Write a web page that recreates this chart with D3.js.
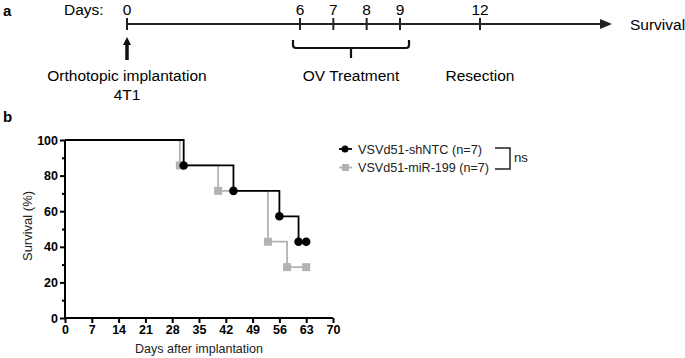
<!DOCTYPE html>
<html><head><meta charset="utf-8">
<script src="https://cdn.jsdelivr.net/npm/d3@7"></script>
<style>body{margin:0;background:#fff}svg{display:block;font-family:"Liberation Sans",Arial,sans-serif}</style>
</head><body><svg id="c" width="685" height="358"></svg>
<script>
// Panel a: timeline
const timelineDays = [0, 6, 7, 8, 9, 12];
const timelineEvents = [
  {label: ["Orthotopic implantation", "4T1"], day: 0},
  {label: ["OV Treatment"], from: 6, to: 9},
  {label: ["Resection"], day: 12}
];
// Panel b: survival
const xTicks = [0, 7, 14, 21, 28, 35, 42, 49, 56, 63, 70];
const yTicks = [0, 20, 40, 60, 80, 100];
const seriesNames = ["VSVd51-shNTC (n=7)", "VSVd51-miR-199 (n=7)"];
const shNTC_days = [0, 31, 44, 56, 61, 63];
const shNTC_surv = [100, 85.714, 71.429, 57.143, 42.857, 42.857];
const miR199_days = [0, 30, 40, 53, 58, 63];
const miR199_surv = [100, 85.714, 71.429, 42.857, 28.571, 28.571];

const svg = d3.select("#c");

// ---------- Panel a ----------
const tx = d3.scaleLinear().domain([0, 6, 9, 12, 14.05]).range([127, 300, 400, 480, 612]);
const ty = 24;
svg.append("text").attr("x", 3).attr("y", 16).attr("font-weight", "bold").attr("font-size", 15).text("a");
svg.append("text").attr("x", 64).attr("y", 15).attr("font-size", 15.5).text("Days:");
svg.append("line").attr("x1", tx(0)).attr("x2", tx(14.05) - 8).attr("y1", ty).attr("y2", ty)
  .attr("stroke", "#222").attr("stroke-width", 2);
svg.append("path").attr("d", `M${tx(14.05)},${ty} l-12,-5 l0,10 z`).attr("fill", "#222");
svg.append("text").attr("x", 630).attr("y", 30).attr("font-size", 15.5).text("Survival");
timelineDays.forEach(d => {
  svg.append("line").attr("x1", tx(d)).attr("x2", tx(d)).attr("y1", ty - 6).attr("y2", ty + 6)
    .attr("stroke", "#222").attr("stroke-width", 2);
  svg.append("text").attr("x", tx(d)).attr("y", 15).attr("text-anchor", "middle").attr("font-size", 15.5).text(d);
});
// arrow at day 0
svg.append("line").attr("x1", tx(0)).attr("x2", tx(0)).attr("y1", 44).attr("y2", 60)
  .attr("stroke", "#111").attr("stroke-width", 3.5);
svg.append("path").attr("d", `M${tx(0)},37 l-4,8 l8,0 z`).attr("fill", "#111");
// bracket
const b0 = tx(6) - 7, b1 = tx(9) + 9, bm = 351;
svg.append("path").attr("d", `M${b0},40 L${b0},45 Q${b0},48 ${b0+3},48 L${b1-3},48 Q${b1},48 ${b1},45 L${b1},40 M${bm},48 L${bm},58`)
  .attr("fill", "none").attr("stroke", "#111").attr("stroke-width", 2.2);
timelineEvents.forEach(ev => {
  const cx = ev.day !== undefined ? tx(ev.day) : bm;
  ev.label.forEach((l, i) => {
    svg.append("text").attr("x", cx).attr("y", 81 + i * 19).attr("text-anchor", "middle")
      .attr("font-size", 15.5).text(l);
  });
});

// ---------- Panel b ----------
svg.append("text").attr("x", 3).attr("y", 122).attr("font-weight", "bold").attr("font-size", 15).text("b");
const x = d3.scaleLinear().domain([0, 70]).range([65, 333]);
const y = d3.scaleLinear().domain([0, 100]).range([318, 140]);

const gy = svg.append("g").attr("transform", `translate(${x(0)},0)`)
  .call(d3.axisLeft(y).tickValues(yTicks).tickSize(5).tickPadding(2));
gy.append("g").call(d3.axisLeft(y).tickValues([10, 30, 50, 70, 90]).tickSize(3).tickFormat(""));
const gx = svg.append("g").attr("transform", `translate(0,${y(0)})`)
  .call(d3.axisBottom(x).tickValues(xTicks).tickSize(5).tickPadding(2));
[gx, gy].forEach(g => {
  g.selectAll("path,line").attr("stroke", "#000").attr("stroke-width", 2);
  g.selectAll("text").attr("font-size", 12.5).attr("font-weight", "bold").attr("fill", "#000")
    .attr("font-family", "Liberation Sans, Arial, sans-serif");
});
gx.select(".domain").attr("d", `M${x(0)},0H${x(70)}`);
gy.select(".domain").attr("d", `M0,${y(0)}V${y(100)}`);
gy.selectAll("g g .domain").remove();

svg.append("text").attr("transform", `translate(32,226) rotate(-90)`)
  .attr("text-anchor", "middle").attr("font-size", 13).attr("fill", "#222").text("Survival (%)");
svg.append("text").attr("x", 199).attr("y", 353).attr("text-anchor", "middle")
  .attr("font-size", 13).attr("fill", "#222")
  .attr("textLength", 128).attr("lengthAdjust", "spacingAndGlyphs").text("Days after implantation");

const series = [
  {name: seriesNames[1], days: miR199_days, surv: miR199_surv, color: "#b3b3b3", shape: "square"},
  {name: seriesNames[0], days: shNTC_days, surv: shNTC_surv, color: "#000", shape: "circle"}
];
const step = d3.line().x(d => x(d[0])).y(d => y(d[1])).curve(d3.curveStepAfter);
series.forEach(s => {
  const pts = s.days.map((d, i) => [d, s.surv[i]]);
  svg.append("path").attr("d", step(pts)).attr("fill", "none").attr("stroke", s.color).attr("stroke-width", 1.8);
  pts.slice(1).forEach(p => {
    if (s.shape === "circle")
      svg.append("circle").attr("cx", x(p[0])).attr("cy", y(p[1])).attr("r", 4.3).attr("fill", s.color);
    else
      svg.append("rect").attr("x", x(p[0]) - 4).attr("y", y(p[1]) - 4).attr("width", 8).attr("height", 8).attr("fill", s.color);
  });
});

// legend
const leg = [
  {name: seriesNames[0], color: "#000", shape: "circle", yy: 149, w: 124},
  {name: seriesNames[1], color: "#b3b3b3", shape: "square", yy: 167.5, w: 131}
];
leg.forEach(l => {
  svg.append("line").attr("x1", 339).attr("x2", 352).attr("y1", l.yy).attr("y2", l.yy).attr("stroke", l.color).attr("stroke-width", 1.8);
  if (l.shape === "circle") svg.append("circle").attr("cx", 345).attr("cy", l.yy).attr("r", 3.5).attr("fill", l.color);
  else svg.append("rect").attr("x", 342).attr("y", l.yy - 3.5).attr("width", 7).attr("height", 7).attr("fill", l.color);
  svg.append("text").attr("x", 358).attr("y", l.yy + 4.5).attr("font-size", 13).attr("fill", "#222")
    .attr("textLength", l.w).attr("lengthAdjust", "spacingAndGlyphs").text(l.name);
});
svg.append("path").attr("d", "M495,148 L510,148 L510,169 L495,169").attr("fill", "none").attr("stroke", "#222").attr("stroke-width", 1.5);
svg.append("text").attr("x", 514).attr("y", 162).attr("font-size", 13).attr("fill", "#222")
  .attr("textLength", 14).attr("lengthAdjust", "spacingAndGlyphs").text("ns");
</script></body></html>
